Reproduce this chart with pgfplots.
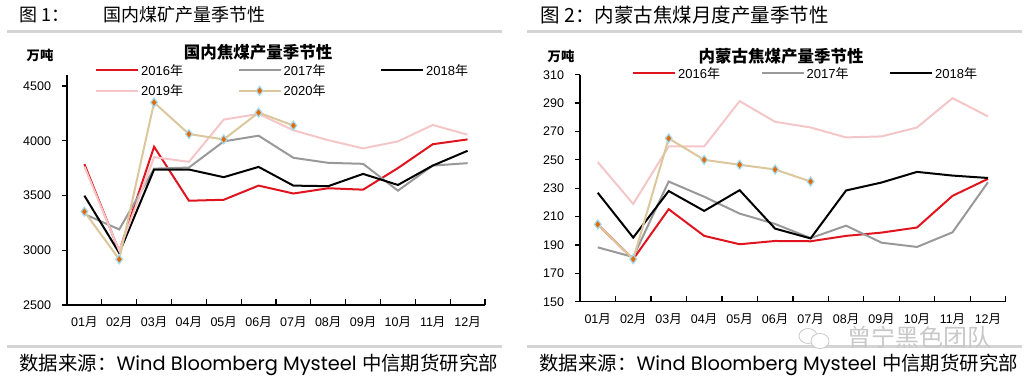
\documentclass[border=0pt]{standalone}
\usepackage{fontspec}
\setmainfont{Liberation Sans}
\newfontfamily\cjk{Noto Sans CJK SC}
\newfontfamily\pop{Poppins}
\usepackage{pgfplots}
\pgfplotsset{compat=1.18}
\newlength\yrw
\newcommand{\m}[1]{#1{\cjk 月}}
\newcommand{\yr}[1]{\makebox[\yrw][l]{#1{\cjk 年}}}
\definecolor{c16}{HTML}{E0141E}
\definecolor{c17}{HTML}{999999}
\definecolor{c18}{HTML}{000000}
\definecolor{c19}{HTML}{F5C6C8}
\definecolor{c20}{HTML}{DCC79C}
\definecolor{mkfill}{HTML}{E36C09}
\definecolor{mkdraw}{HTML}{A5DCEF}
\definecolor{sepgray}{HTML}{D4D4D4}
\definecolor{wm}{HTML}{C8C8C8}
\pgfplotsset{mystyle/.style={
 scale only axis, anchor=south west, clip=false,
 axis x line=bottom, axis y line=left,
 axis line style={line width=1.3pt,-},
 xmin=0.5, xmax=12.5,
 xtick={1,2,3,4,5,6,7,8,9,10,11,12},
 xticklabels={\m{01},\m{02},\m{03},\m{04},\m{05},\m{06},\m{07},\m{08},\m{09},\m{10},\m{11},\m{12}},
 xticklabel style={yshift=-8pt},
 tick align=outside, major tick length=0pt,
 tick label style={font=\fontsize{12.5}{14}\selectfont},
 yticklabel style={xshift=-12.5pt},
 /pgf/number format/assume math mode=true, /pgf/number format/1000 sep={},
 legend style={draw=none, fill=none, font=\fontsize{13}{15}\selectfont, anchor=north west, inner sep=0pt, column sep=0pt, row sep=4pt},
 legend cell align=left,
 legend columns=3,
 legend image code/.code={\draw[mark repeat=2,mark phase=2,##1] plot coordinates {(0pt,0pt) (21pt,0pt) (42pt,0pt)};},
 every axis plot/.append style={line width=2pt, sharp plot},
}}
\begin{document}
\begin{tikzpicture}[x=1pt,y=1pt]
\useasboundingbox (0,0) rectangle (1029,384);
% headers
\node[anchor=west,font=\fontsize{18}{20}\selectfont\cjk] at (16,369) {图 1：};
\node[anchor=west,font=\fontsize{18}{20}\selectfont\cjk] at (100,369) {国内煤矿产量季节性};
\node[anchor=west,font=\fontsize{19.5}{21}\selectfont\cjk] at (537,369) {图 2：内蒙古焦煤月度产量季节性};
\fill[sepgray] (7,350.5) rectangle (502,353.5);
\fill[sepgray] (527,350.5) rectangle (1022,353.5);
\fill[sepgray] (7,36) rectangle (502,39);
\fill[sepgray] (527,36) rectangle (1022,39);
\node[anchor=west,font=\fontsize{19.4}{21}\selectfont] at (16,19) {{\cjk 数据来源：}{\pop Wind Bloomberg Mysteel} {\cjk 中信期货研究部}};
\node[anchor=west,font=\fontsize{19.4}{21}\selectfont] at (536,19) {{\cjk 数据来源：}{\pop Wind Bloomberg Mysteel} {\cjk 中信期货研究部}};
% watermark
\draw[wm,line width=0.8pt] (808,48) ellipse (9pt and 7.5pt);
\draw[wm,line width=0.8pt,fill=white] (820,43) ellipse (9pt and 7.5pt);
\node[anchor=west,font=\fontsize{24}{26}\selectfont\cjk,text=wm] at (844,47) {曾宁黑色团队};
% titles
\node[font=\fontsize{16.5}{18}\selectfont\cjk\bfseries] at (258,332) {国内焦煤产量季节性};
\node[font=\fontsize{13.3}{15}\selectfont\cjk\bfseries] at (40,329) {万吨};
\node[font=\fontsize{16.5}{18}\selectfont\cjk\bfseries] at (781,328) {内蒙古焦煤产量季节性};
\node[font=\fontsize{13.3}{15}\selectfont\cjk\bfseries] at (561,328) {万吨};
\setlength\yrw{94.5pt}
\begin{axis}[mystyle, at={(67pt,79pt)}, width=418pt, height=230pt,
 ymin=2500, ymax=4600, ytick={2500,3000,3500,4000,4500},
 legend style={at={(0.067,1.057)}}]
\pgfplotsinvokeforeach{1.5,2.5,3.5,4.5,5.5,6.5,7.5,8.5,9.5,10.5,11.5,12.5}{\draw[black,line width=1.3pt] (axis cs:#1,2500) -- ++(0pt,6pt);}
\pgfplotsinvokeforeach{2500,3000,3500,4000,4500}{\draw[black,line width=1.3pt] (axis cs:0.5,#1) -- ++(-5pt,0pt);}
\addplot[c16] coordinates {(1,3786)(2,2990)(3,3945)(4,3452)(5,3461)(6,3590)(7,3518)(8,3566)(9,3553)(10,3750)(11,3968)(12,4012)};
\addlegendentry{\yr{2016}}
\addplot[c17] coordinates {(1,3330)(2,3190)(3,3745)(4,3755)(5,3994)(6,4046)(7,3844)(8,3798)(9,3789)(10,3544)(11,3773)(12,3795)};
\addlegendentry{\yr{2017}}
\addplot[c18] coordinates {(1,3498)(2,2975)(3,3737)(4,3737)(5,3667)(6,3761)(7,3590)(8,3585)(9,3697)(10,3596)(11,3773)(12,3908)};
\addlegendentry{\yr{2018}}
\addplot[c19] coordinates {(1,3764)(2,2995)(3,3850)(4,3807)(5,4193)(6,4245)(7,4095)(8,4005)(9,3930)(10,3994)(11,4144)(12,4055)};
\addlegendentry{\yr{2019}}
\addplot[c20, mark=diamond*, mark size=4.5pt, mark options={fill=mkfill, draw=mkdraw, line width=1.2pt}] coordinates {(1,3352)(2,2917)(3,4349)(4,4061)(5,4012)(6,4257)(7,4138)};
\addlegendentry{\yr{2020}}
\end{axis}
\setlength\yrw{80.5pt}
\begin{axis}[mystyle, at={(580pt,82.3pt)}, width=425.7pt, height=227pt,
 ymin=150, ymax=310, ytick={150,170,...,310},
 legend style={at={(0.122,1.043)}}]
\pgfplotsinvokeforeach{1.5,2.5,3.5,4.5,5.5,6.5,7.5,8.5,9.5,10.5,11.5,12.5}{\draw[black,line width=1.3pt] (axis cs:#1,150) -- ++(0pt,6pt);}
\pgfplotsinvokeforeach{150,170,190,210,230,250,270,290,310}{\draw[black,line width=1.3pt] (axis cs:0.5,#1) -- ++(-5pt,0pt);}
\addplot[c16] coordinates {(1,204.5)(2,180)(3,215.2)(4,196.4)(5,190.5)(6,192.8)(7,192.6)(8,196.4)(9,198.7)(10,202.3)(11,224.6)(12,236.6)};
\addlegendentry{\yr{2016}}
\addplot[c17] coordinates {(1,188.3)(2,181.5)(3,234.7)(4,224)(5,212.1)(6,204.8)(7,194.8)(8,203.6)(9,191.6)(10,188.6)(11,198.9)(12,234.2)};
\addlegendentry{\yr{2017}}
\addplot[c18] coordinates {(1,226.8)(2,195.2)(3,228)(4,214)(5,228.6)(6,201.5)(7,194.6)(8,228.4)(9,234)(10,241.5)(11,238.9)(12,237.2)};
\addlegendentry{\yr{2018}}
\addplot[c19, forget plot] coordinates {(1,248.4)(2,218.9)(3,259.4)(4,259.4)(5,291.4)(6,276.8)(7,272.8)(8,265.8)(9,266.5)(10,272.8)(11,293.5)(12,280.6)};
\addplot[c20, forget plot, mark=diamond*, mark size=4.5pt, mark options={fill=mkfill, draw=mkdraw, line width=1.2pt}] coordinates {(1,204.5)(2,180)(3,265.1)(4,250)(5,246.5)(6,243.2)(7,234.7)};
\end{axis}
\end{tikzpicture}
\end{document}
